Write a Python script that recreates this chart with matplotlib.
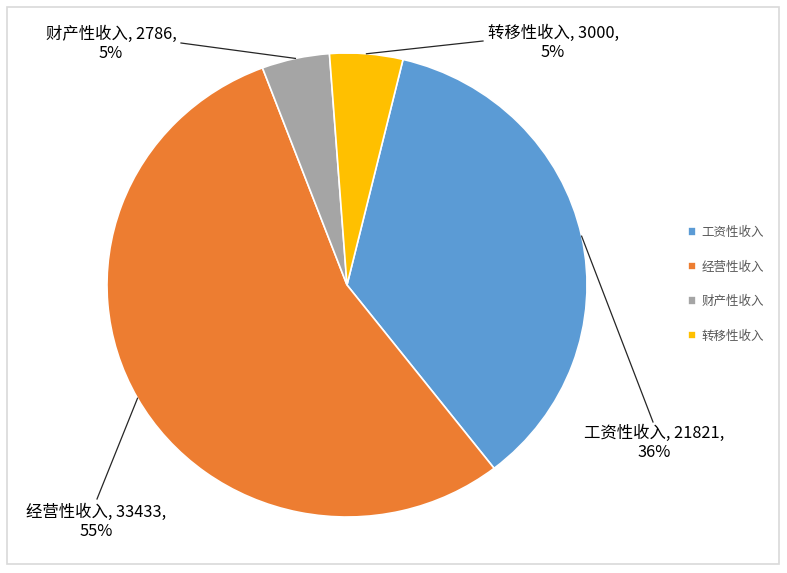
import numpy as np
import matplotlib.pyplot as plt
from matplotlib.patches import Rectangle

plt.rcParams['font.family'] = ['Noto Sans CJK SC', 'DejaVu Sans']

# data
categories = ['工资性收入', '经营性收入', '财产性收入', '转移性收入']
values = [21821, 33433, 2786, 3000]
colors = ['#5B9BD5', '#ED7D31', '#A5A5A5', '#FFC000']

W, H = 787, 573
SY = 232 / 240  # pie is a bit squashed vertically in the original
fig = plt.figure(figsize=(W / 100, H / 100), dpi=100)
ax = fig.add_axes([0, 0, 1, 1])


def py(y_px):
    # pixel row (from top) -> data y
    return (H - y_px) / SY


cx, cy, r = 347, py(285), 240
wedges, _ = ax.pie(values, colors=colors, startangle=76.5, counterclock=False,
                   center=(cx, cy), radius=r, frame=True,
                   wedgeprops=dict(edgecolor='white', linewidth=1.2))
ax.set_xlim(0, W)
ax.set_ylim(0, H / SY)
ax.set_aspect('auto')
ax.axis('off')

# chart border
ax.add_patch(Rectangle((7, py(564)), 772, 557 / SY, fill=False, edgecolor='#D9D9D9', lw=1.2))

total = sum(values)
# line end and text block centre, pixel coords from top-left
label_pos = [
    ((653, 422), (654, 443)),
    ((97, 499), (96, 522)),
    ((181, 43), (111, 44)),
    ((483, 41), (553, 43)),
]
for w, name, v, (end, txt) in zip(wedges, categories, values, label_pos):
    mid = np.deg2rad((w.theta1 + w.theta2) / 2)
    x0 = cx + r * np.cos(mid)
    y0 = cy + r * np.sin(mid)
    ax.plot([x0, end[0]], [y0, py(end[1])], color='#262626', lw=0.9)
    pct = round(v / total * 100)
    ax.text(txt[0], py(txt[1]), f'{name}, {v},\n{pct}%', ha='center', va='center',
            fontsize=11.8, color='black', linespacing=1.2)

# legend
leg = ax.legend(wedges, categories, loc='upper left', bbox_to_anchor=(688 / W, 1 - 226 / H),
                frameon=False, fontsize=9, labelcolor='#595959',
                handlelength=0.65, handleheight=0.65, handletextpad=0.45,
                labelspacing=1.72, borderaxespad=0, borderpad=0)

fig.savefig('out.png', dpi=100)
